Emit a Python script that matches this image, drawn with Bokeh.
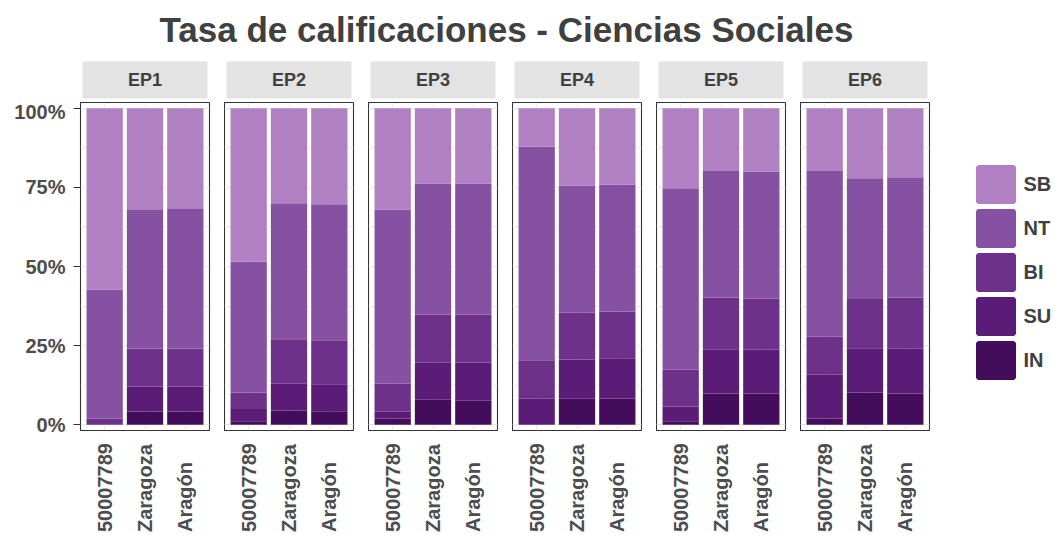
import math
from bokeh.plotting import figure
from bokeh.layouts import column, row
from bokeh.models import (ColumnDataSource, FactorRange, Range1d, FixedTicker,
                          NumeralTickFormatter, Legend, LegendItem, Label)
from bokeh.core.properties import value
from bokeh.embed import file_html
from bokeh.resources import INLINE

TITLE = "Tasa de calificaciones - Ciencias Sociales"
panels = ["EP1", "EP2", "EP3", "EP4", "EP5", "EP6"]
centers = ["50007789", "Zaragoza", "Aragón"]
levels = ["IN", "SU", "BI", "NT", "SB"]
colors = ["#430d5b", "#5a1c77", "#6e318a", "#8751a3", "#b080c2"]

# percentages, one list per panel, ordered as `centers`
IN = [[0.0, 4.2, 4.2], [1.1, 4.5, 4.3], [2.0, 7.9, 7.6], [0.0, 8.2, 8.3], [1.1, 9.9, 9.9], [2.0, 10.2, 9.9]]
SU = [[0.0, 7.9, 7.9], [3.9, 8.5, 8.5], [2.1, 11.7, 12.1], [8.2, 12.4, 12.7], [4.7, 14.0, 13.8], [13.8, 14.0, 14.1]]
BI = [[2.0, 12.0, 12.0], [5.2, 14.0, 13.9], [8.9, 15.2, 15.1], [12.2, 14.8, 14.8], [11.6, 16.3, 16.2], [12.0, 15.5, 16.2]]
NT = [[40.7, 44.0, 44.1], [41.3, 43.0, 43.0], [55.0, 41.4, 41.4], [67.4, 40.2, 40.1], [57.3, 40.0, 40.1], [52.4, 38.2, 38.0]]
SB = [[57.3, 31.9, 31.8], [48.5, 30.0, 30.3], [32.0, 23.8, 23.8], [12.2, 24.4, 24.1], [25.3, 19.8, 20.0], [19.8, 22.1, 21.8]]
series = {"IN": IN, "SU": SU, "BI": BI, "NT": NT, "SB": SB}

FONT = "Liberation Sans"
TXT = "#404040"
AX = "#4d4d4d"
GAP = 15
LEFT = 80
FW = 129
FH = 328
TITLE_H = 61
LAB_H = 96

common = dict(output_backend="svg", toolbar_location=None, title=None)

# title
tf = figure(width=1050, height=TITLE_H, x_range=Range1d(0, 1050), y_range=Range1d(0, TITLE_H),
            x_axis_location=None, y_axis_location=None, min_border=0,
            outline_line_color=None, **common)
tf.grid.visible = False
tf.add_layout(Label(x=506, y=TITLE_H - 29, text=TITLE, text_align="center",
                    text_baseline="alphabetic", text_font=FONT, text_font_style="bold",
                    text_font_size="35px", text_color=TXT))

strips, panel_figs, label_figs = [], [], []
for i, name in enumerate(panels):
    first = i == 0
    last = i == len(panels) - 1
    lb = LEFT if first else 0
    rb = 0 if last else GAP

    # facet strip
    s = figure(x_range=Range1d(0, 1), y_range=Range1d(0, 1), frame_width=FW - 4, frame_height=37,
               min_border_left=lb + 2, min_border_right=rb + 2, min_border_top=0,
               min_border_bottom=2, x_axis_location=None, y_axis_location=None,
               outline_line_color=None, background_fill_color="#e3e3e3", **common)
    s.grid.visible = False
    s.add_layout(Label(x=0.5, y=0.5, text=name, text_align="center", text_baseline="middle",
                       text_font=FONT, text_font_style="bold", text_font_size="18px",
                       text_color=TXT))
    strips.append(s)

    # panel
    xr = FactorRange(*centers, range_padding=0.2 / 3, range_padding_units="percent")
    p = figure(x_range=xr, y_range=Range1d(-0.018, 1.018), frame_width=FW, frame_height=FH,
               min_border_left=lb, min_border_right=(114 if last else rb), min_border_top=2,
               min_border_bottom=6, x_axis_location=None,
               y_axis_location=("left" if first else None),
               outline_line_color="#333333", outline_line_width=1.1, **common)
    src = ColumnDataSource(dict(cat=centers, **{lv: [v / 100 for v in series[lv][i]] for lv in levels}))
    rends = p.vbar_stack(levels, x="cat", width=0.9, color=colors, line_color=None, source=src)
    p.xgrid.grid_line_color = "#ebebeb"
    p.ygrid.ticker = FixedTicker(ticks=[0, 0.25, 0.5, 0.75, 1],
                                 minor_ticks=[0.125, 0.375, 0.625, 0.875])
    p.ygrid.grid_line_color = "#ebebeb"
    p.ygrid.minor_grid_line_color = "#ebebeb"
    if first:
        ax = p.yaxis[0]
        ax.ticker = FixedTicker(ticks=[0, 0.25, 0.5, 0.75, 1])
        ax.formatter = NumeralTickFormatter(format="0%")
        ax.axis_line_color = None
        ax.major_tick_line_color = "#333333"
        ax.major_tick_out = 7
        ax.major_tick_in = 0
        ax.minor_tick_out = 0
        ax.minor_tick_in = 0
        ax.major_label_standoff = 8
        ax.major_label_text_font = FONT
        ax.major_label_text_font_style = "bold"
        ax.major_label_text_font_size = "20px"
        ax.major_label_text_color = AX
    if last:
        # legend keys: hidden proxies of the stacked bars, outlined so the key fills its box
        proxies = []
        for lv, c in zip(levels, colors):
            r = p.vbar(x="cat", top=lv, width=0.9, source=src, fill_color=c,
                       line_color=c, line_width=4, visible=False)
            proxies.append(r)
        items = [LegendItem(label=lv, renderers=[r]) for lv, r in zip(levels, proxies)][::-1]
        leg = Legend(items=items, location=(43.5, 48), orientation="vertical",
                     glyph_width=45, glyph_height=44, label_height=20, spacing=0,
                     padding=0, margin=0, label_standoff=6, border_line_color=None,
                     background_fill_alpha=0, inactive_fill_alpha=0, label_text_font=FONT,
                     label_text_font_style="bold", label_text_font_size="20px",
                     label_text_color=TXT)
        p.add_layout(leg, "right")
    panel_figs.append(p)

    # category labels below the panel
    lf = figure(x_range=xr, y_range=Range1d(0, LAB_H), frame_width=FW, frame_height=LAB_H,
                min_border_left=lb, min_border_right=rb, min_border_top=0, min_border_bottom=0,
                x_axis_location=None, y_axis_location=None, outline_line_color=None, **common)
    lf.grid.visible = False
    lf.text(x=centers, y=[0.5] * len(centers), text=centers, angle=math.pi / 2,
            text_align="left", text_baseline="middle", text_font=value(FONT),
            text_font_style="bold", text_font_size="20px", text_color=AX)
    label_figs.append(lf)

layout = column(tf, row(*strips), row(*panel_figs), row(*label_figs))
open("out.html", "w").write(file_html(layout, INLINE))
